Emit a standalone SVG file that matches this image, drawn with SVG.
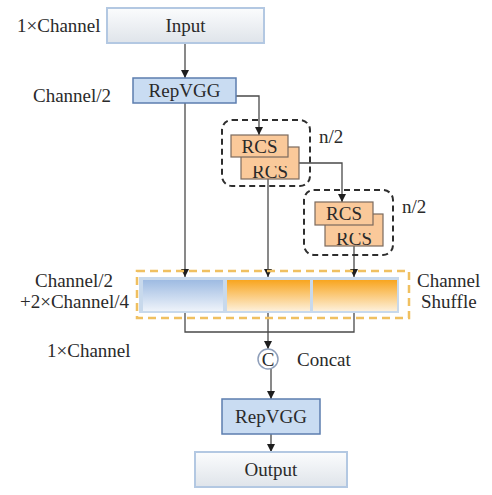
<svg xmlns="http://www.w3.org/2000/svg" width="492" height="495" viewBox="0 0 492 495">
<style>
text{font-family:"Liberation Serif","DejaVu Serif","Times New Roman",serif;font-size:19px;fill:#2a2a2a}
.c{text-anchor:middle}
.ln{fill:none;stroke:#4a4a4a;stroke-width:1.3}
.io{fill:url(#gIO);stroke:#b3c8e2;stroke-width:2}
.rep{fill:#c9dcf2;stroke:#5c7eaf;stroke-width:1.5}
.rcs{fill:#fac99a;stroke:#7b6a5e;stroke-width:1.2}
.dash{fill:none;stroke:#2e2e2e;stroke-width:2;stroke-dasharray:6 4}
</style>
<defs>
<linearGradient id="gIO" x1="0" y1="0" x2="0" y2="1"><stop offset="0" stop-color="#fbfcfd"/><stop offset="1" stop-color="#dfe4ea"/></linearGradient>
<linearGradient id="gB" x1="0" y1="0" x2="0" y2="1"><stop offset="0" stop-color="#9ebbe2"/><stop offset="1" stop-color="#eef3fa"/></linearGradient>
<linearGradient id="gO" x1="0" y1="0" x2="0" y2="1"><stop offset="0" stop-color="#f8a51f"/><stop offset="1" stop-color="#fdf0da"/></linearGradient>
<marker id="ar" viewBox="0 0 10 10" refX="10" refY="5" markerWidth="8" markerHeight="8" markerUnits="userSpaceOnUse" orient="auto"><path d="M0,0 L10,5 L0,10 z" fill="#1e1e1e"/></marker>
<clipPath id="cp1"><rect x="241" y="166" width="58" height="13"/></clipPath>
<clipPath id="cp2"><rect x="325" y="233" width="58" height="13"/></clipPath>
</defs>

<g id="labels">
<text x="17" y="32">1×Channel</text>
<text x="33" y="102">Channel/2</text>
<text x="319" y="143">n/2</text>
<text x="402" y="213">n/2</text>
<text x="35" y="287">Channel/2</text>
<text x="20" y="308">+2×Channel/4</text>
<text x="417" y="287">Channel</text>
<text x="421" y="308">Shuffle</text>
<text x="47" y="357">1×Channel</text>
<text x="297" y="366">Concat</text>
</g>

<g id="connectors">
<path class="ln" d="M185,43 V78" marker-end="url(#ar)"/>
<path class="ln" d="M236,96 H259 V135" marker-end="url(#ar)"/>
<path class="ln" d="M299,163 H342 V202" marker-end="url(#ar)"/>
<path class="ln" d="M185,103 V277" marker-end="url(#ar)"/>
<path class="ln" d="M268,179 V277" marker-end="url(#ar)"/>
<path class="ln" d="M354,246 V277" marker-end="url(#ar)"/>
<path class="ln" d="M185,313 V332 H354 V313"/>
<path class="ln" d="M268,313 V349" marker-end="url(#ar)"/>
<path class="ln" d="M271,369 V399" marker-end="url(#ar)"/>
<path class="ln" d="M271,434 V452" marker-end="url(#ar)"/>
</g>

<g id="input">
<rect class="io" x="107" y="8" width="157" height="35"/>
<text class="c" x="185.5" y="32">Input</text>
</g>

<g id="repvgg1">
<rect class="rep" x="133" y="78" width="103" height="25"/>
<text class="c" x="184.5" y="97">RepVGG</text>
</g>

<g id="rcs-group-1">
<rect class="dash" x="222" y="120" width="88" height="66" rx="10"/>
<rect class="rcs" x="241" y="147" width="58" height="32"/>
<text class="c" x="270" y="178" clip-path="url(#cp1)">RCS</text>
<rect class="rcs" x="231" y="135" width="57" height="22"/>
<text class="c" x="259.5" y="153">RCS</text>
</g>

<g id="rcs-group-2">
<rect class="dash" x="304" y="190" width="89" height="65" rx="10"/>
<rect class="rcs" x="325" y="214" width="58" height="32"/>
<text class="c" x="354" y="245" clip-path="url(#cp2)">RCS</text>
<rect class="rcs" x="315" y="202" width="58" height="23"/>
<text class="c" x="344" y="220">RCS</text>
</g>

<g id="channel-shuffle">
<rect x="137" y="271" width="272" height="47" fill="none" stroke="#f0c060" stroke-width="2.5" stroke-dasharray="8 5"/>
<rect x="139" y="277" width="260" height="36" fill="#c8d9ec"/>
<rect x="143" y="280" width="80" height="31" fill="url(#gB)"/>
<rect x="227" y="280" width="83" height="31" fill="url(#gO)"/>
<rect x="313" y="280" width="84" height="31" fill="url(#gO)"/>
</g>

<g id="concat">
<circle cx="268" cy="359" r="10" fill="#fff" stroke="#8f9fba" stroke-width="1.5"/>
<text class="c" x="268" y="366" style="font-size:19px">C</text>
</g>

<g id="repvgg2">
<rect class="rep" x="222" y="399" width="98" height="35"/>
<text class="c" x="271" y="423">RepVGG</text>
</g>

<g id="output">
<rect class="io" x="195" y="452" width="152" height="35"/>
<text class="c" x="271" y="476">Output</text>
</g>
</svg>
